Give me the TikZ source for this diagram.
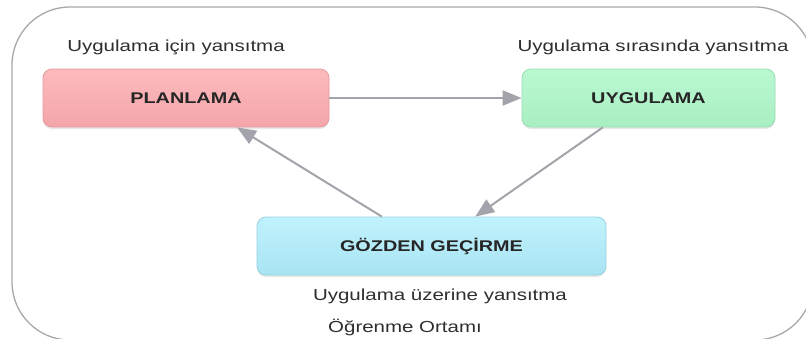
\documentclass[tikz,border=0pt]{standalone}
\usepackage{fontspec}
\setmainfont[FakeStretch=1.28]{Liberation Sans}
\usetikzlibrary{calc,shadows,arrows.meta}
\definecolor{framegray}{HTML}{A8A8A8}
\definecolor{arrowgray}{HTML}{A3A3AB}
\definecolor{txtgray}{HTML}{2E2E2E}
\definecolor{pinktop}{HTML}{FDBABD}
\definecolor{pinkbot}{HTML}{F3A5AA}
\definecolor{pinkline}{HTML}{E59A9F}
\definecolor{greentop}{HTML}{BAF9D2}
\definecolor{greenbot}{HTML}{A9EEC3}
\definecolor{greenline}{HTML}{9ADDB2}
\definecolor{bluetop}{HTML}{C0F2FC}
\definecolor{bluebot}{HTML}{A9E4F3}
\definecolor{blueline}{HTML}{95D3E3}
\tikzset{
  frame/.style={draw=framegray, line width=1.3pt, rounded corners=58pt},
  box/.style={rounded corners=9pt, line width=0.8pt, minimum height=58pt,
    font=\fontsize{15.5}{18}\selectfont\bfseries, text=black!85,
    drop shadow={opacity=0.18, shadow xshift=0pt, shadow yshift=-2pt}},
  lbl/.style={font=\fontsize{16}{19}\selectfont, text=txtgray, inner sep=0pt},
  conn/.style={draw=arrowgray, line width=2pt,
    -{Triangle[length=19pt,width=15pt,fill=arrowgray]}}
}
\begin{document}
\begin{tikzpicture}[x=1pt,y=-1pt]
\useasboundingbox (0,0) rectangle (806,338);
\clip (0,0) rectangle (806,338);
\draw[frame] (12,7) rectangle (813,340);

\node[box, draw=pinkline, top color=pinktop, bottom color=pinkbot, minimum width=286pt] (plan) at (186,98) {PLANLAMA};
\node[box, draw=greenline, top color=greentop, bottom color=greenbot, minimum width=253pt] (uyg) at (648.5,98) {UYGULAMA};
\node[box, draw=blueline, top color=bluetop, bottom color=bluebot, minimum width=349pt] (goz) at (431.5,246) {GÖZDEN GEÇİRME};

\node[lbl] (l1) at (176,47) {Uygulama için yansıtma};
\node[lbl] (l2) at (653,47) {Uygulama sırasında yansıtma};
\node[lbl] (l3) at (440,296) {Uygulama üzerine yansıtma};
\node[lbl] (l4) at (405,327) {Öğrenme Ortamı};

\draw[conn] (plan.east) -- (uyg.west);
\draw[conn] ($(uyg.south west)!0.32!(uyg.south east)$) -- ($(goz.north west)!0.625!(goz.north east)$);
\draw[conn] ($(goz.north west)!0.358!(goz.north east)$) -- ($(plan.south west)!0.678!(plan.south east)$);
\end{tikzpicture}
\end{document}
